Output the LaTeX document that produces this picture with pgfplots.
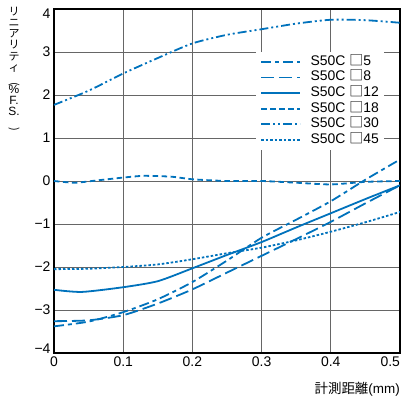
\documentclass[border=0pt]{standalone}
\usepackage{pgfplots}
\pgfplotsset{compat=1.18}
\usepackage{fontspec}
\usepackage{graphicx}
\setmainfont{Liberation Sans}
\newfontfamily\jp{Noto Sans CJK JP}
\definecolor{cblue}{RGB}{0,114,188}
\newcommand{\sq}{{\jp □}}
\begin{document}
\begin{tikzpicture}[x=1bp,y=1bp]
\useasboundingbox (-54,-50) rectangle (349,353);
\begin{axis}[
  at={(0,0)}, anchor=south west,
  scale only axis, width=346bp, height=344bp,
  xmin=0, xmax=0.5, ymin=-4, ymax=4,
  xtick={0,0.1,0.2,0.3,0.4,0.5},
  xticklabels={0,0.1,0.2,0.3,0.4,\makebox[0pt][r]{0.5}},
  ytick={-4,-3,-2,-1,0,1,2,3,4},
  yticklabels={\raisebox{-0.85bp}[0pt][0pt]{−4},−3,−2,−1,0,1,2,3,\raisebox{-9.85bp}[0pt][0pt]{4}},
  grid=major,
  major grid style={draw=black!60, line width=0.9bp},
  axis line style={black, line width=1.2bp},
  tick style={draw=none},
  ticklabel style={font=\fontsize{14}{16}\selectfont},
  legend style={at={(rel axis cs:0.584,0.876)}, anchor=north west, draw=none, fill=white,
    font=\fontsize{14}{16}\selectfont, inner xsep=4bp, inner ysep=2bp,
    nodes={inner sep=1.5bp, text height=10bp, text depth=3bp}, row sep=-0.4bp,
    /tikz/every odd column/.style={column sep=8bp}},
  legend cell align=left,
  legend image code/.code={\draw[#1, line width=1.8bp] (0bp,0bp) -- (39bp,0bp);},
  every axis plot/.append style={cblue, line width=1.8bp, smooth, tension=0.4},
]
\addplot[dash pattern=on 10bp off 4bp on 4bp off 4bp] coordinates {
(0,-3.38) (0.05,-3.27) (0.1,-3.05) (0.15,-2.75) (0.2,-2.35) (0.25,-1.85) (0.3,-1.32) (0.35,-0.9) (0.4,-0.47) (0.45,0.03) (0.5,0.5)};
\addlegendentry{S50C \sq5}
\addplot[dash pattern=on 13bp off 5bp] coordinates {
(0,-3.26) (0.05,-3.24) (0.1,-3.12) (0.15,-2.85) (0.2,-2.52) (0.25,-2.13) (0.3,-1.74) (0.35,-1.35) (0.4,-0.95) (0.45,-0.52) (0.5,-0.1)};
\addlegendentry{S50C \sq8}
\addplot[solid] coordinates {
(0,-2.53) (0.04,-2.58) (0.1,-2.47) (0.15,-2.33) (0.2,-2.03) (0.25,-1.72) (0.3,-1.42) (0.35,-1.08) (0.4,-0.75) (0.45,-0.42) (0.5,-0.1)};
\addlegendentry{S50C \sq12}
\addplot[dash pattern=on 5.5bp off 3.5bp] coordinates {
(0,0) (0.03,-0.04) (0.06,0.01) (0.1,0.08) (0.13,0.12) (0.17,0.1) (0.2,0.04) (0.25,0) (0.3,0) (0.35,-0.04) (0.4,-0.08) (0.45,-0.02) (0.5,0)};
\addlegendentry{S50C \sq18}
\addplot[dash pattern=on 9bp off 3bp on 2bp off 3bp on 2bp off 3bp] coordinates {
(0,1.77) (0.05,2.1) (0.1,2.5) (0.15,2.86) (0.2,3.2) (0.25,3.4) (0.3,3.53) (0.35,3.66) (0.4,3.75) (0.45,3.74) (0.5,3.68)};
\addlegendentry{S50C \sq30}
\addplot[dash pattern=on 2.5bp off 2bp] coordinates {
(0,-2.05) (0.05,-2.04) (0.1,-2.0) (0.15,-1.94) (0.2,-1.82) (0.25,-1.68) (0.3,-1.55) (0.35,-1.38) (0.4,-1.18) (0.45,-0.96) (0.5,-0.72)};
\addlegendentry{S50C \sq45}
\end{axis}
\node[anchor=north, align=center, inner sep=0pt,
  font={\fontsize{11}{11.2}\selectfont\lineskiplimit=-20pt\jp}] at (-40,346)
  {リ\\ニ\\ア\\リ\\テ\\ィ\\\rotatebox{-90}{(}\\{\rmfamily\fontsize{12}{11.2}\selectfont\%}\\{\rmfamily\fontsize{12}{11.2}\selectfont F.}\\{\rmfamily\fontsize{12}{11.2}\selectfont S.}\\\rotatebox{-90}{)}};
\node[anchor=east, inner sep=0pt, font=\fontsize{13.5}{16}\selectfont] at (346,-36) {{\jp 計測距離}(mm)};
\end{tikzpicture}
\end{document}
